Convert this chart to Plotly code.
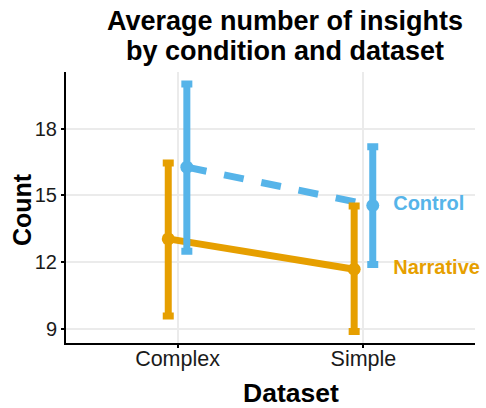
import plotly.graph_objects as go

categories = ["Complex", "Simple"]
control_mean = [16.27, 14.55]
control_upper = [20.0, 17.19]
control_lower = [12.5, 11.9]
narrative_mean = [13.05, 11.69]
narrative_upper = [16.46, 14.53]
narrative_lower = [9.59, 8.9]
y_ticks = [9, 12, 15, 18]
title_lines = ["Average number of insights", "by condition and dataset"]
x_title = "Dataset"
y_title = "Count"

C_BLUE = "#56B4E9"
C_ORANGE = "#E69F00"
DODGE = 0.05
FONT = "Liberation Sans, Arial, sans-serif"

xpos = list(range(1, len(categories) + 1))
x_ctrl = [x + DODGE for x in xpos]
x_narr = [x - DODGE for x in xpos]

fig = go.Figure()

# lines
fig.add_trace(go.Scatter(x=x_ctrl, y=control_mean, mode="lines",
                         line=dict(color=C_BLUE, width=7, dash="20px,18px"),
                         showlegend=False, hoverinfo="skip"))
fig.add_trace(go.Scatter(x=x_narr, y=narrative_mean, mode="lines",
                         line=dict(color=C_ORANGE, width=7),
                         showlegend=False, hoverinfo="skip"))

# points + error bars
def eb(mean, up, lo, color):
    return dict(type="data", symmetric=False,
                array=[u - m for u, m in zip(up, mean)],
                arrayminus=[m - l for m, l in zip(mean, lo)],
                color=color, thickness=7, width=5.5)

fig.add_trace(go.Scatter(x=x_ctrl, y=control_mean, mode="markers",
                         marker=dict(color=C_BLUE, size=13),
                         error_y=eb(control_mean, control_upper, control_lower, C_BLUE),
                         showlegend=False))
fig.add_trace(go.Scatter(x=x_narr, y=narrative_mean, mode="markers",
                         marker=dict(color=C_ORANGE, size=13),
                         error_y=eb(narrative_mean, narrative_upper, narrative_lower, C_ORANGE),
                         showlegend=False))

# end labels
fig.add_trace(go.Scatter(x=[xpos[-1] + 0.16], y=[control_mean[-1]], mode="text",
                         text=["<b>Control</b>"], textposition="middle right",
                         textfont=dict(family=FONT, size=20, color=C_BLUE),
                         showlegend=False, hoverinfo="skip", cliponaxis=False))
fig.add_trace(go.Scatter(x=[xpos[-1] + 0.16], y=[narrative_mean[-1]], mode="text",
                         text=["<b>Narrative</b>"], textposition="middle right",
                         textfont=dict(family=FONT, size=20, color=C_ORANGE),
                         showlegend=False, hoverinfo="skip", cliponaxis=False))

for line, ypos in zip(title_lines, [1.188, 1.078]):
    fig.add_annotation(text="<b>" + line + "</b>", xref="paper", yref="paper",
                       x=0.535, y=ypos, xanchor="center", yanchor="middle",
                       showarrow=False,
                       font=dict(family=FONT, size=27, color="#000000"))

fig.add_annotation(text="<b>" + x_title + "</b>", xref="paper", yref="paper",
                   x=0.550, y=-0.1845, xanchor="center", yanchor="middle",
                   showarrow=False, font=dict(family=FONT, size=26.5, color="#000000"))
fig.add_annotation(text="<b>" + y_title + "</b>", xref="paper", yref="paper",
                   x=-0.1076, y=0.494, xanchor="center", yanchor="middle",
                   textangle=-90, showarrow=False,
                   font=dict(family=FONT, size=25, color="#000000"))

fig.update_layout(
    width=486, height=408,
    margin=dict(l=66, r=11, t=72, b=65),
    paper_bgcolor="white", plot_bgcolor="white",
    font=dict(family=FONT, color="#000000"),
    xaxis=dict(range=[0.4, 2.6], tickmode="array", tickvals=xpos, ticktext=categories,
               showline=True, linecolor="black", linewidth=2, automargin=False,
               ticks="outside", ticklen=3, tickwidth=2, tickcolor="black",
               ticklabelstandoff=-8,
               showgrid=True, gridcolor="#EBEBEB", gridwidth=2, zeroline=False,
               tickfont=dict(family=FONT, size=21.5, color="#1a1a1a")),
    yaxis=dict(range=[8.38, 20.54], tickmode="array", tickvals=y_ticks,
               showline=True, linecolor="black", linewidth=2, automargin=False,
               ticks="outside", ticklen=3, tickwidth=2, tickcolor="black",
               showgrid=True, gridcolor="#EBEBEB", gridwidth=2, zeroline=False,
               tickfont=dict(family=FONT, size=20, color="#1a1a1a")),
)

fig.write_html("out.html", config={"displayModeBar": False},
               post_script="document.body.style.margin='0px';document.body.style.overflow='hidden';")
